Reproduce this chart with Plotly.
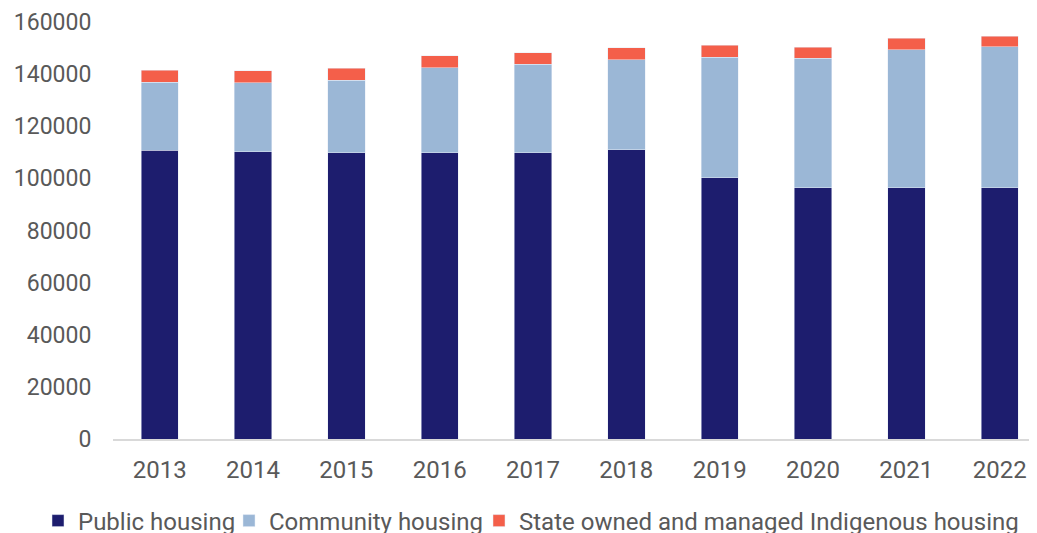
import plotly.graph_objects as go

years = ["2013", "2014", "2015", "2016", "2017", "2018", "2019", "2020", "2021", "2022"]
public_housing = [110700, 110300, 109800, 109800, 109800, 110900, 100200, 96500, 96400, 96400]
community_housing = [26200, 26400, 27900, 32700, 33900, 34700, 46300, 49500, 52900, 54200]
somih = [4500, 4600, 4600, 4600, 4500, 4600, 4500, 4300, 4400, 3900]
y_ticks = [0, 20000, 40000, 60000, 80000, 100000, 120000, 140000, 160000]

# page body has an 8px margin, so the figure is drawn slightly smaller
W, H = 1029, 525

fig = go.Figure()
fig.add_bar(x=years, y=public_housing, name="Public housing", marker_color="#1D1D6E",
            legend="legend")
fig.add_bar(x=years, y=community_housing, name="Community housing", marker_color="#9BB7D6",
            legend="legend2")
fig.add_bar(x=years, y=somih, name="State owned and managed Indigenous housing",
            marker_color="#F45F4A", legend="legend3")

leg_common = dict(orientation="h", xref="container", yref="container", xanchor="left",
                  yanchor="middle", y=(H - 513) / H, font=dict(size=24, color="#595959"),
                  itemwidth=30, borderwidth=0, bgcolor="rgba(0,0,0,0)")

fig.update_layout(
    barmode="stack",
    bargap=0.6,
    width=W, height=H,
    margin=dict(l=105, r=0, t=14, b=94, autoexpand=False),
    plot_bgcolor="white", paper_bgcolor="white",
    font=dict(family="Roboto", size=23, color="#595959"),
    showlegend=True,
    legend=dict(leg_common, x=30 / W),
    legend2=dict(leg_common, x=221 / W),
    legend3=dict(leg_common, x=471 / W),
    xaxis=dict(showline=True, linecolor="#D9D9D9", linewidth=1.5, ticks="outside",
               ticklen=8, tickcolor="rgba(0,0,0,0)", showgrid=False,
               tickfont=dict(size=24), range=[-0.5, 9.4]),
    yaxis=dict(range=[0, 160000], tickvals=y_ticks, tickformat="d", showgrid=False,
               zeroline=False, ticks="outside", ticklen=16, tickcolor="rgba(0,0,0,0)"),
)

fig.write_html("out.html")
